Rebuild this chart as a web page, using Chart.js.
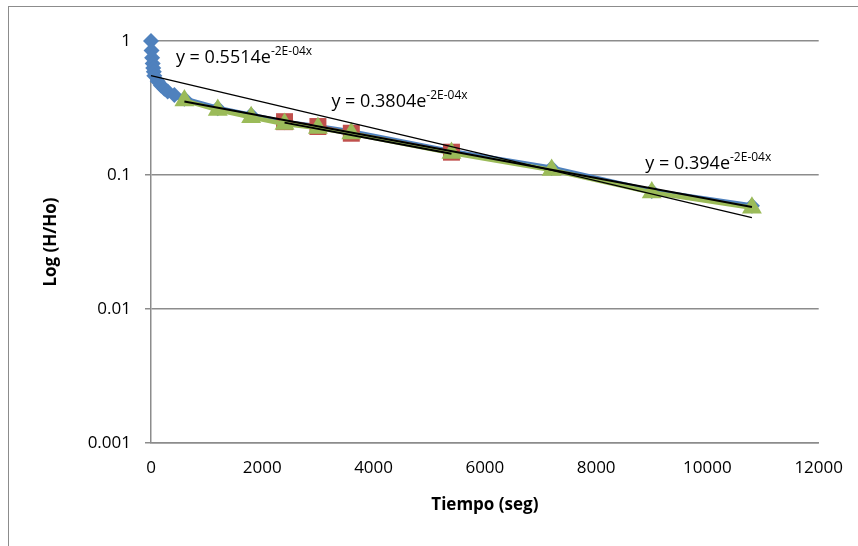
<!DOCTYPE html>
<html>
<head>
<meta charset="utf-8">
<script src="https://cdn.jsdelivr.net/npm/chart.js@4.4.0/dist/chart.umd.min.js"></script>
<style>
  html, body { margin: 0; padding: 0; background: #fff; overflow: hidden; }
  #wrap { position: relative; width: 858px; height: 546px; }
  #frame { position: absolute; left: 8px; top: 6px; width: 900px; height: 600px; border: 1px solid #8c8c8c; }
  #chart { position: absolute; left: 0; top: 0; }
</style>
</head>
<body>
<div id="wrap">
  <div id="frame"></div>
  <canvas id="chart" width="858" height="546"></canvas>
</div>
<script>
// Series data (time in seconds, H/Ho ratio)
let blueTimes  = [0, 10, 20, 30, 40, 50, 60, 120, 180, 240, 300, 420, 600, 1200, 1800, 2400, 3000, 3600, 5400, 7200, 9000, 10800];
let blueValues = [1.0, 0.85, 0.75, 0.68, 0.63, 0.59, 0.55, 0.50, 0.465, 0.44, 0.42, 0.395, 0.37, 0.315, 0.28, 0.248, 0.23, 0.21, 0.15, 0.113, 0.076, 0.059];

let redTimes  = [2400, 3000, 3600, 5400];
let redValues = [0.25, 0.23, 0.205, 0.148];

let greenTimes  = [600, 1200, 1800, 2400, 3000, 3600, 5400, 7200, 9000, 10800];
let greenValues = [0.36, 0.305, 0.27, 0.24, 0.224, 0.204, 0.146, 0.109, 0.074, 0.057];

// Trendline end points
let blueTrendTimes  = [0, 10800];
let blueTrendValues = [0.5514, 0.048];
let redTrendTimes   = [2400, 5400];
let redTrendValues  = [0.246, 0.144];
let greenTrendTimes  = [600, 10800];
let greenTrendValues = [0.354, 0.0577];

// Trendline equations
let trendCoefs = ['0.5514', '0.3804', '0.394'];
let trendExps  = ['-2E-04x', '-2E-04x', '-2E-04x'];

let yTicks = [0.001, 0.01, 0.1, 1];
let yTitle = 'Log (H/Ho)';

function toPoints(xs, ys) {
  return xs.map((x, i) => ({x: x, y: ys[i]}));
}

const FONT = '"Open Sans", "DejaVu Sans", sans-serif';

// Draws the trendline equations next to the lines, and the y axis title.
let equationPlugin = {
  id: 'equations',
  afterDatasetsDraw(chart) {
    let ctx = chart.ctx;
    let xs = chart.scales.x;
    let ys = chart.scales.y;
    let anchors = [{x: 448, y: 0.685}, {x: 3242, y: 0.322}, {x: 8884, y: 0.111}];
    ctx.save();
    ctx.fillStyle = '#000';
    ctx.textBaseline = 'alphabetic';
    ctx.textAlign = 'left';
    trendCoefs.forEach((coef, i) => {
      let px = xs.getPixelForValue(anchors[i].x);
      let py = ys.getPixelForValue(anchors[i].y);
      let main = 'y = ' + coef + 'e';
      ctx.font = '18px ' + FONT;
      ctx.fillText(main, px, py);
      let w = ctx.measureText(main).width;
      ctx.font = '12px ' + FONT;
      ctx.fillText(trendExps[i], px + w, py - 8);
    });

    // y axis title, rotated
    let area = chart.chartArea;
    ctx.translate(area.left - 100, (area.top + area.bottom) / 2);
    ctx.rotate(-Math.PI / 2);
    ctx.font = 'bold 17px ' + FONT;
    ctx.textAlign = 'center';
    ctx.textBaseline = 'middle';
    ctx.fillText(yTitle, 0, 0);
    ctx.restore();
  }
};

let ctx = document.getElementById('chart');

let chart = new Chart(ctx, {
  type: 'line',
  data: {
    datasets: [
      {
        label: 'tendencia 1', data: toPoints(blueTrendTimes, blueTrendValues),
        borderColor: '#000', borderWidth: 1.3, pointRadius: 0, order: 0, clip: false
      },
      {
        label: 'tendencia 2', data: toPoints(redTrendTimes, redTrendValues),
        borderColor: '#000', borderWidth: 2, pointRadius: 0, order: 0, clip: false
      },
      {
        label: 'tendencia 3', data: toPoints(greenTrendTimes, greenTrendValues),
        borderColor: '#000', borderWidth: 2, pointRadius: 0, order: 0, clip: false
      },
      {
        label: 'Serie 3', data: toPoints(greenTimes, greenValues),
        borderColor: '#9BBB59', backgroundColor: '#9BBB59', borderWidth: 4.5,
        pointStyle: 'triangle', pointRadius: 11.5, pointBorderWidth: 0, order: 1, clip: false
      },
      {
        label: 'Serie 2', data: toPoints(redTimes, redValues),
        borderColor: '#C0504D', backgroundColor: '#C0504D', borderWidth: 3.5,
        pointStyle: 'rect', pointRadius: 12, pointBorderWidth: 0, order: 2, clip: false
      },
      {
        label: 'Serie 1', data: toPoints(blueTimes, blueValues),
        borderColor: '#4F81BD', backgroundColor: '#4F81BD', borderWidth: 5,
        pointStyle: 'rectRot', pointRadius: 8, pointBorderWidth: 0, order: 3, clip: false
      }
    ]
  },
  options: {
    responsive: false,
    animation: false,
    layout: {padding: {top: 41, right: 37, left: 0, bottom: 0}},
    plugins: {legend: {display: false}, tooltip: {enabled: false}},
    scales: {
      x: {
        type: 'linear', min: 0, max: 12000,
        afterFit: (scale) => { scale.height = 103; },
        grid: {display: false, drawTicks: false},
        border: {display: true, color: '#8c8c8c', width: 1.5},
        ticks: {stepSize: 2000, padding: 15, color: '#000', font: {family: FONT, size: 17},
                maxRotation: 0, callback: (v) => String(v)},
        title: {display: true, text: 'Tiempo (seg)', color: '#000',
                font: {family: FONT, size: 17, weight: 'bold'}, padding: {top: 0, bottom: 31}}
      },
      y: {
        type: 'logarithmic', min: 0.001, max: 1,
        afterFit: (scale) => { scale.width = 151; },
        afterBuildTicks: (scale) => { scale.ticks = yTicks.map(v => ({value: v})); },
        grid: {color: '#8c8c8c', lineWidth: 1.5, tickLength: 6},
        border: {display: true, color: '#8c8c8c', width: 1.5},
        ticks: {padding: 14, color: '#000', font: {family: FONT, size: 17},
                callback: (v) => String(v)}
      }
    }
  },
  plugins: [equationPlugin]
});
</script>
</body>
</html>
